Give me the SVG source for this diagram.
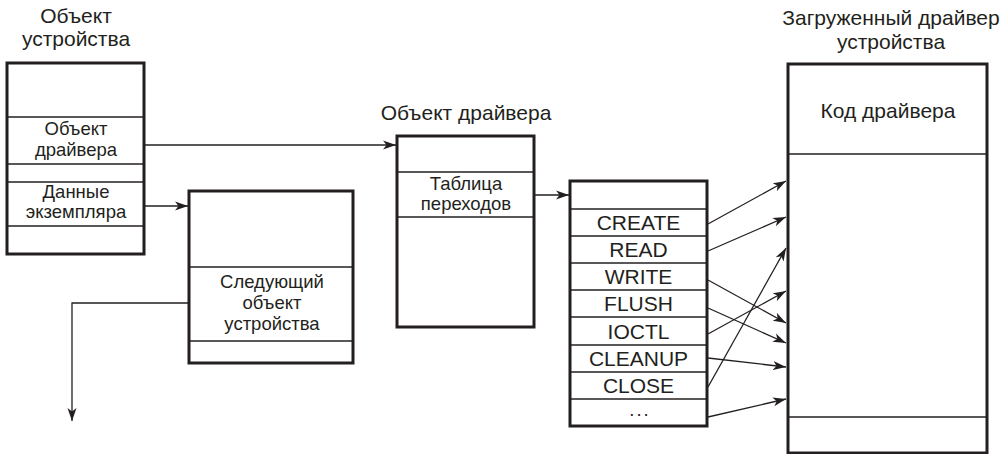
<svg xmlns="http://www.w3.org/2000/svg" width="1006" height="454" viewBox="0 0 1006 454">
<style>
.box{fill:#fff;stroke:#231f20;stroke-width:3}
.div{stroke:#231f20;stroke-width:1.3;fill:none}
.t{font-family:"Liberation Sans",Arial,sans-serif;fill:#231f20;text-anchor:middle}
.title{font-size:21px}
.lbl{font-size:18.5px}
.tbl{font-size:21px}
.con{stroke:#231f20;stroke-width:1.3;fill:none;marker-end:url(#ah)}
</style>
<defs>
<marker id="ah" markerUnits="userSpaceOnUse" markerWidth="14" markerHeight="10" viewBox="0 0 14 10" refX="13" refY="5" orient="auto">
<path d="M0,0.5 L13,5 L0,9.5 L3.5,5 z" fill="#231f20"/>
</marker>
</defs>
<g id="device-object">
<text class="t title" x="76" y="23">Объект</text>
<text class="t title" x="76" y="46">устройства</text>
<rect class="box" x="7" y="63" width="137" height="191"/>
<line class="div" x1="7" y1="117" x2="144" y2="117"/>
<line class="div" x1="7" y1="164" x2="145" y2="164"/>
<line class="div" x1="7" y1="182" x2="144" y2="182"/>
<line class="div" x1="7" y1="226" x2="145" y2="226"/>
<text class="t lbl" x="76" y="135">Объект</text>
<text class="t lbl" x="76" y="156">драйвера</text>
<text class="t lbl" x="76" y="198">Данные</text>
<text class="t lbl" x="76" y="218">экземпляра</text>
</g>
<g id="next-device">
<rect class="box" x="189" y="191" width="164" height="172"/>
<line class="div" x1="189" y1="267" x2="353" y2="267"/>
<line class="div" x1="189" y1="341" x2="353" y2="341"/>
<text class="t lbl" x="272" y="288">Следующий</text>
<text class="t lbl" x="272" y="309">объект</text>
<text class="t lbl" x="272" y="330">устройства</text>
</g>
<g id="driver-object">
<text class="t title" x="466" y="120">Объект драйвера</text>
<rect class="box" x="397" y="136" width="137" height="191"/>
<line class="div" x1="397" y1="172" x2="534" y2="172"/>
<line class="div" x1="397" y1="217" x2="534" y2="217"/>
<text class="t lbl" x="466" y="190">Таблица</text>
<text class="t lbl" x="466" y="210">переходов</text>
</g>
<g id="dispatch-table">
<rect class="box" x="570" y="181" width="137" height="245"/>
<g class="div">
<line x1="570" y1="209" x2="707" y2="209"/>
<line x1="570" y1="236" x2="707" y2="236"/>
<line x1="570" y1="263" x2="707" y2="263"/>
<line x1="570" y1="290" x2="707" y2="290"/>
<line x1="570" y1="317" x2="707" y2="317"/>
<line x1="570" y1="345" x2="707" y2="345"/>
<line x1="570" y1="372" x2="707" y2="372"/>
<line x1="570" y1="399" x2="707" y2="399"/>
</g>
<text class="t tbl" x="638.5" y="230">CREATE</text>
<text class="t tbl" x="638.5" y="257">READ</text>
<text class="t tbl" x="638.5" y="284">WRITE</text>
<text class="t tbl" x="638.5" y="311">FLUSH</text>
<text class="t tbl" x="638.5" y="338.5">IOCTL</text>
<text class="t tbl" x="638.5" y="366">CLEANUP</text>
<text class="t tbl" x="638.5" y="393">CLOSE</text>
<text class="t lbl" x="640" y="416" letter-spacing="2">...</text>
</g>
<g id="loaded-driver">
<text class="t title" x="891" y="25">Загруженный драйвер</text>
<text class="t title" x="891" y="49">устройства</text>
<rect class="box" x="788" y="64" width="199" height="389"/>
<line class="div" x1="788" y1="154" x2="987" y2="154"/>
<line class="div" x1="788" y1="417" x2="987" y2="417"/>
<text class="t title" x="888" y="118">Код драйвера</text>
</g>
<g id="connectors">
<line class="con" x1="145" y1="145" x2="396" y2="145"/>
<line class="con" x1="145" y1="206" x2="188" y2="206"/>
<polyline class="con" points="189,303 72,303 72,421"/>
<line class="con" x1="535" y1="195" x2="569" y2="195"/>
<line class="con" x1="708" y1="224" x2="786" y2="181"/>
<line class="con" x1="708" y1="251" x2="786" y2="217"/>
<line class="con" x1="708" y1="280" x2="786" y2="323"/>
<line class="con" x1="708" y1="308" x2="786" y2="343"/>
<line class="con" x1="708" y1="334" x2="786" y2="291"/>
<line class="con" x1="708" y1="358" x2="786" y2="367"/>
<line class="con" x1="708" y1="387" x2="786" y2="248"/>
<line class="con" x1="708" y1="417" x2="786" y2="399"/>
</g>
</svg>
